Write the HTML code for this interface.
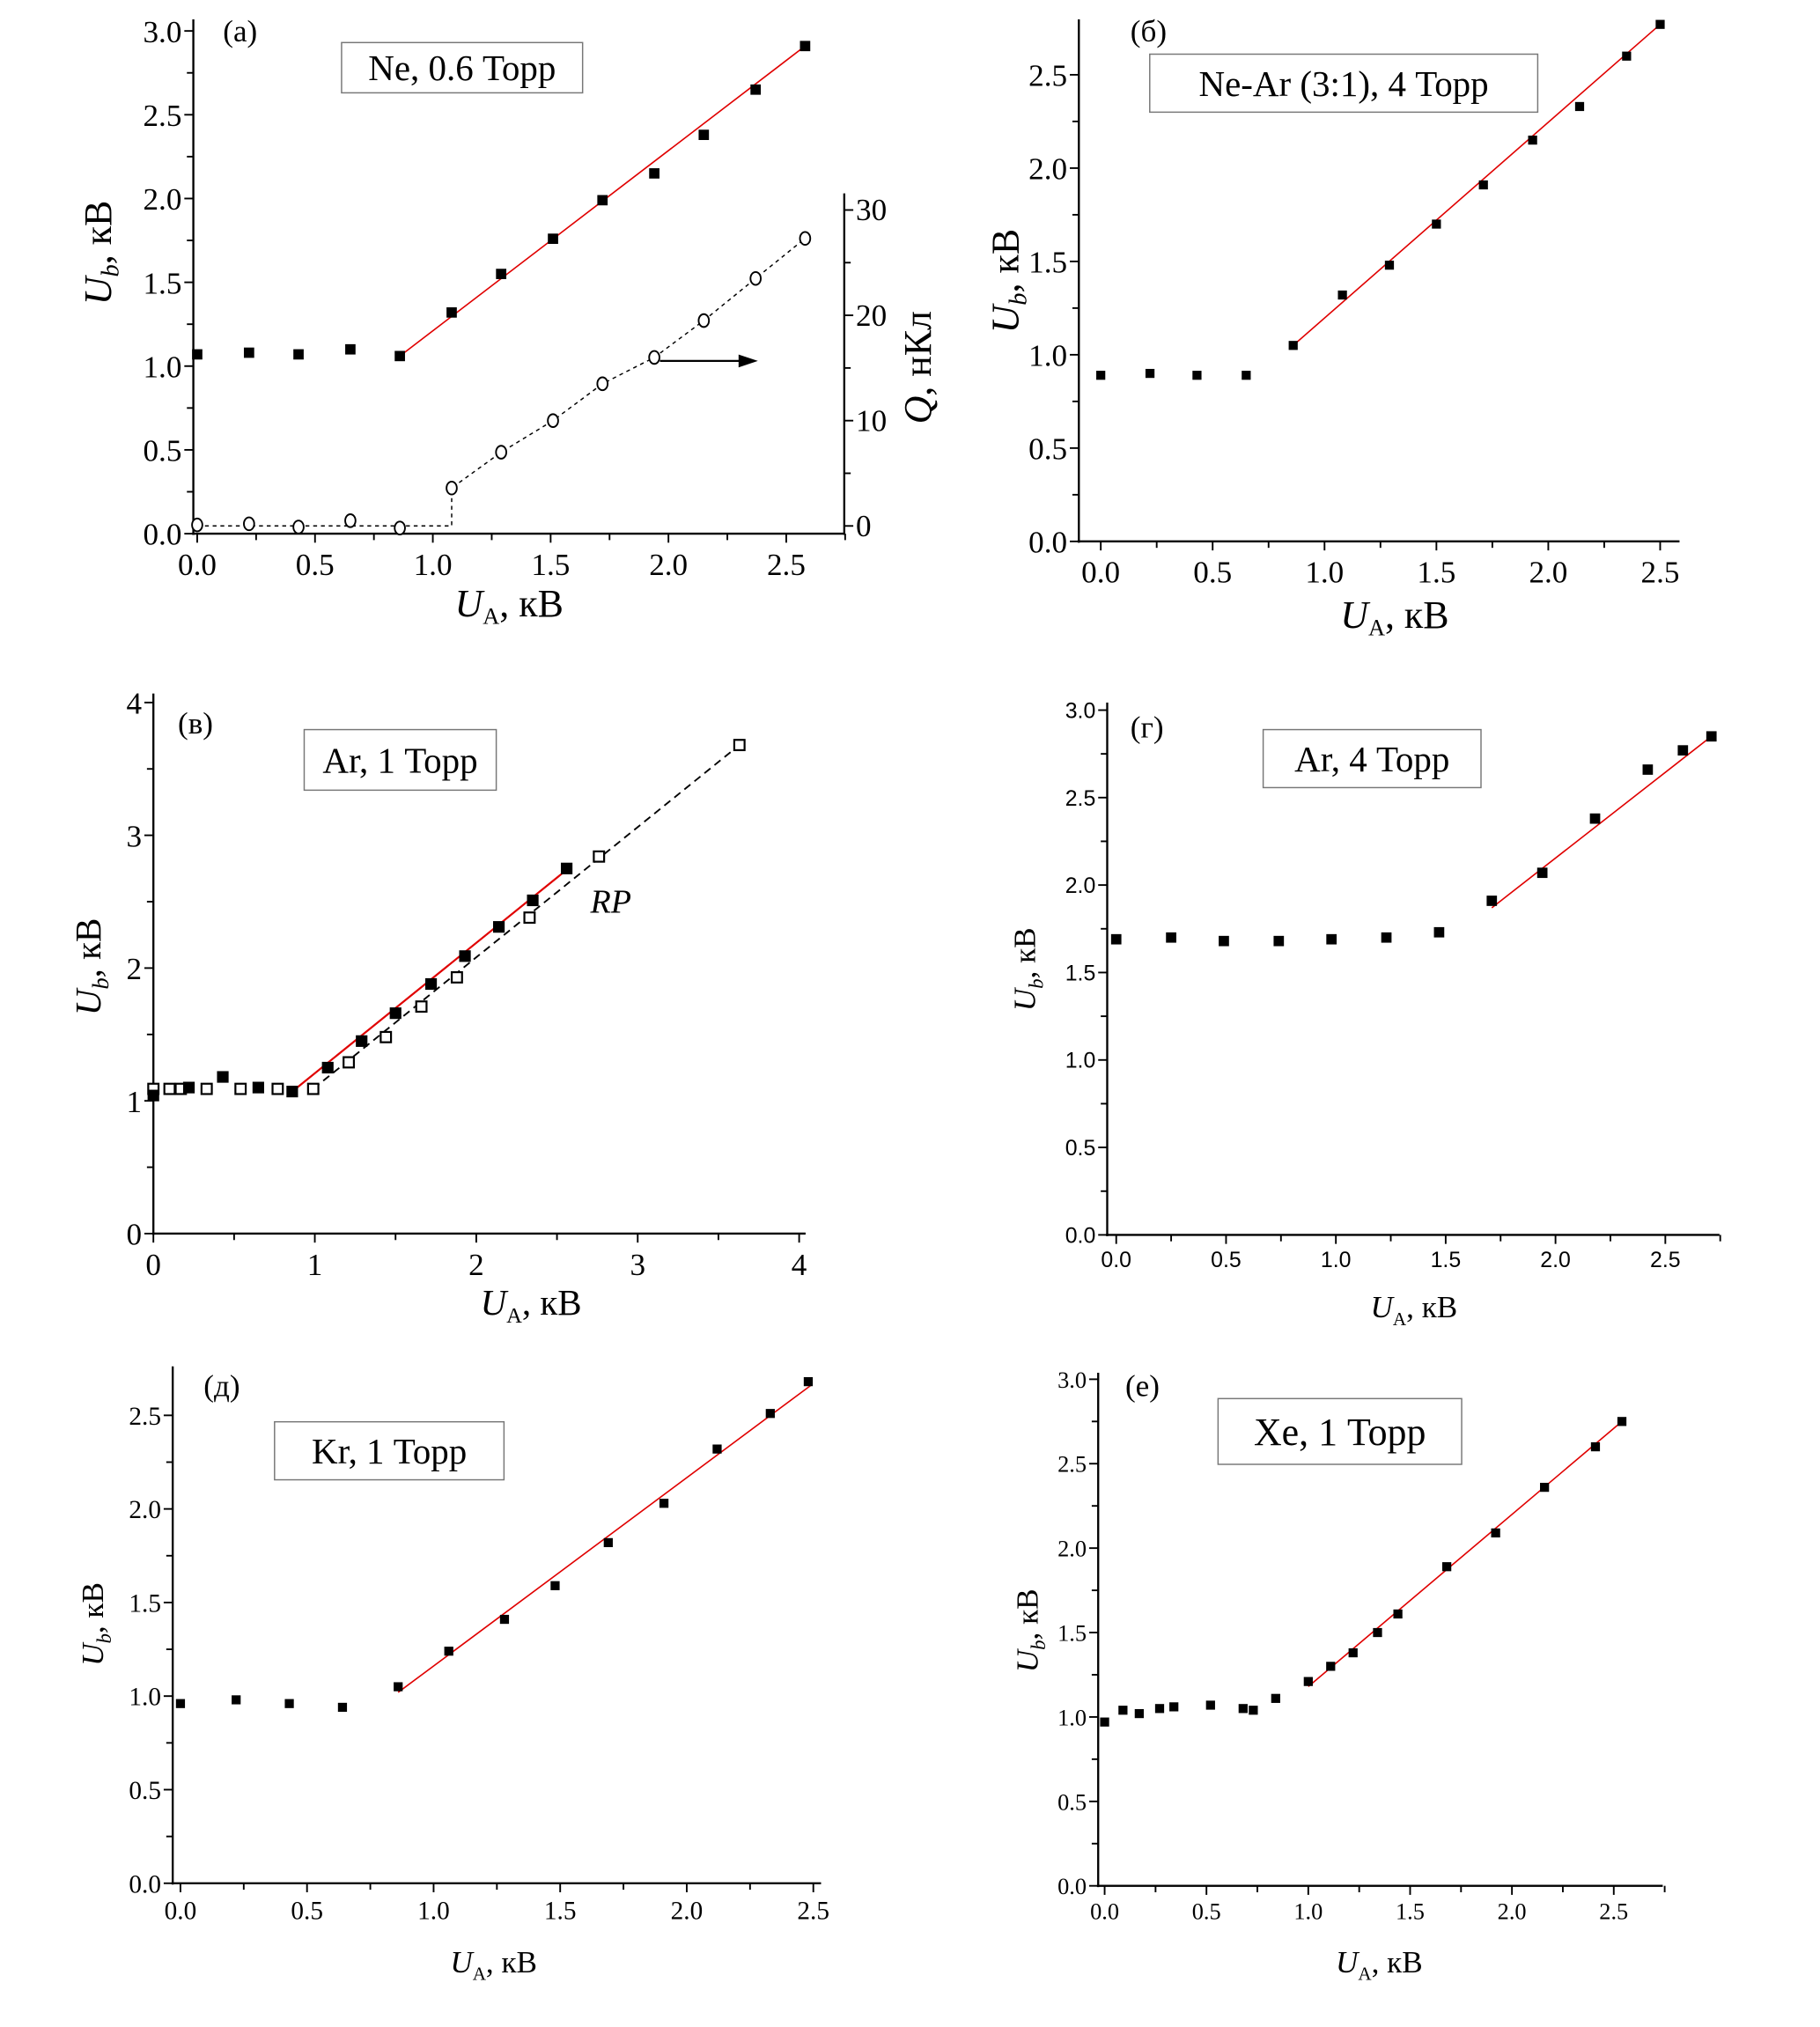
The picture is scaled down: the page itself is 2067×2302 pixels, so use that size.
<!DOCTYPE html>
<html><head><meta charset="utf-8"><style>
html,body{margin:0;padding:0;background:#fff;}
svg{display:block;}
text{font-family:"Liberation Serif",serif;fill:#000;}
.sans{font-family:"Liberation Sans",sans-serif;}
</style></head><body>
<svg id="fig" xmlns="http://www.w3.org/2000/svg" width="2067" height="2302" viewBox="0 0 1412 1572.5"></svg>
<script>
// ---- Panel (a) Ne 0.6 Torr ----
const aX = [0,0.22,0.43,0.65,0.86,1.08,1.29,1.51,1.72,1.94,2.15,2.37,2.58];
const aUb = [1.07,1.08,1.07,1.10,1.06,1.32,1.55,1.76,1.99,2.15,2.38,2.65,2.91];
const aQ = [0.1,0.2,-0.1,0.5,-0.2,3.6,7.0,10.0,13.5,16.0,19.5,23.5,27.3];
const aFit = [[0.86,1.06],[2.58,2.91]];
const aQTicks = [0,10,20,30];
// ---- Panel (б) Ne-Ar ----
const bX = [0,0.22,0.43,0.65,0.86,1.08,1.29,1.50,1.71,1.93,2.14,2.35,2.5];
const bUb = [0.89,0.90,0.89,0.89,1.05,1.32,1.48,1.70,1.91,2.15,2.33,2.60,2.77];
const bFit = [[0.86,1.05],[2.5,2.77]];
// ---- Panel (в) Ar 1 Torr ----
const cX = [0,0.22,0.43,0.65,0.86,1.08,1.29,1.50,1.72,1.93,2.14,2.35,2.56];
const cUb = [1.04,1.10,1.18,1.10,1.07,1.25,1.45,1.66,1.88,2.09,2.31,2.51,2.75];
const cRPx = [0,0.1,0.17,0.33,0.54,0.77,0.99,1.21,1.44,1.66,1.88,2.33,2.76,3.63];
const cRPy = [1.09,1.09,1.09,1.09,1.09,1.09,1.09,1.29,1.48,1.71,1.93,2.38,2.84,3.68];
const cFit = [[0.86,1.07],[2.56,2.74]];
const cRPFit = [[0.99,1.09],[3.63,3.68]];
// ---- Panel (г) Ar 4 Torr ----
const dX = [0,0.25,0.49,0.74,0.98,1.23,1.47,1.71,1.94,2.18,2.42,2.58,2.71];
const dUb = [1.69,1.70,1.68,1.68,1.69,1.70,1.73,1.91,2.07,2.38,2.66,2.77,2.85];
const dFit = [[1.71,1.87],[2.72,2.86]];
// ---- Panel (д) Kr ----
const eX = [0,0.22,0.43,0.64,0.86,1.06,1.28,1.48,1.69,1.91,2.12,2.33,2.48];
const eUb = [0.96,0.98,0.96,0.94,1.05,1.24,1.41,1.59,1.82,2.03,2.32,2.51,2.68];
const eFit = [[0.86,1.02],[2.49,2.66]];
// ---- Panel (е) Xe ----
const fX = [0,0.09,0.17,0.27,0.34,0.52,0.68,0.73,0.84,1.0,1.11,1.22,1.34,1.44,1.68,1.92,2.16,2.41,2.54];
const fUb = [0.97,1.04,1.02,1.05,1.06,1.07,1.05,1.04,1.11,1.21,1.30,1.38,1.50,1.61,1.89,2.09,2.36,2.60,2.75];
const fFit = [[1.0,1.18],[2.55,2.76]];

const NS="http://www.w3.org/2000/svg";
const svg=document.getElementById('fig');
function mk(tag,attrs,parent){const e=document.createElementNS(NS,tag);for(const k in attrs)e.setAttribute(k,attrs[k]);(parent||svg).appendChild(e);return e;}

function panel(p){
  const g=mk('g',{});
  
  
  const X=v=>p.x0+p.sx*v, Y=v=>p.y0-p.sy*v;
  const ax=mk('g',{},g);
  
  
  mk('line',{x1:p.axX,y1:p.yTop,x2:p.axX,y2:p.axY+1,stroke:'#000','stroke-width':1.6},ax);
  mk('line',{x1:p.axX-1,y1:p.axY,x2:p.xRight,y2:p.axY,stroke:'#000','stroke-width':1.6},ax);
  const cls=p.sans?'sans':'';
  for(let v=0;v<=p.xMax+1e-6;v+=p.xMinor){
    const maj=Math.abs(v/p.xStep-Math.round(v/p.xStep))<1e-6;
    mk('line',{x1:X(v),y1:p.axY,x2:X(v),y2:p.axY+(maj?7:5),stroke:'#000','stroke-width':1.3},ax);
    if(maj){const t=mk('text',{x:X(v),y:p.axY+p.fs+8,'font-size':p.fs,'text-anchor':'middle',class:cls},ax);t.textContent=p.xFmt(v);
      }
  }
  for(let v=0;v<=p.yMax+1e-6;v+=p.yMinor){
    const maj=Math.abs(v/p.yStep-Math.round(v/p.yStep))<1e-6;
    mk('line',{x1:p.axX,y1:Y(v),x2:p.axX-(maj?7:5),y2:Y(v),stroke:'#000','stroke-width':1.3},ax);
    if(maj){const t=mk('text',{x:p.axX-9,y:Y(v)+p.fs*0.36,'font-size':p.fs,'text-anchor':'end',class:cls},ax);t.textContent=p.yFmt(v);
      }
  }
  (p.lines||[]).forEach(L=>{
    const l=mk('line',{x1:X(L.pts[0][0]),y1:Y(L.pts[0][1]),x2:X(L.pts[1][0]),y2:Y(L.pts[1][1]),stroke:L.color,'stroke-width':L.w||1.1,'stroke-dasharray':L.dash||'none'},g);
    
  });
  (p.series||[]).forEach(S=>{
    const sg=mk('g',{},g);
    
    S.x.forEach((xv,i)=>{
      const cx=X(xv), cy=Y(S.y[i]); const s=S.size;
      let m;
      if(S.open) m=mk('rect',{x:cx-s/2,y:cy-s/2,width:s,height:s,fill:'#fff',stroke:'#000','stroke-width':1.5},sg);
      else m=mk('rect',{x:cx-s/2,y:cy-s/2,width:s,height:s,fill:'#000'},sg);
      
    });
  });
  const lb=mk('g',{},g);
  
  mk('rect',{x:p.box[0],y:p.box[1],width:p.box[2],height:p.box[3],fill:'#fff',stroke:'#777','stroke-width':1},lb);
  const bt=mk('text',{x:p.box[0]+p.box[2]/2,y:p.box[1]+p.box[3]/2+p.boxFs*0.35,'font-size':p.boxFs,'text-anchor':'middle'},lb);bt.textContent=p.boxText;
  const pl=mk('text',{x:p.letter[0],y:p.letter[1],'font-size':24},g);pl.textContent=p.letterText;
  
  const xt=mk('text',{x:p.xt[0],y:p.xt[1],'font-size':p.tfs,'text-anchor':'middle'},g);
  
  xt.innerHTML='<tspan font-style="italic">U</tspan><tspan font-size="'+(p.tfs*0.6)+'" dy="6">A</tspan><tspan dy="-6">, кВ</tspan>';
  const yt=mk('text',{x:0,y:0,'font-size':p.tfs,'text-anchor':'middle',transform:`translate(${p.yt[0]},${p.yt[1]}) rotate(-90)`},g);
  
  yt.innerHTML='<tspan font-style="italic">U</tspan><tspan font-style="italic" font-size="'+(p.tfs*0.65)+'" dy="6">b</tspan><tspan dy="-6">, кВ</tspan>';
  return {g,X,Y};
}
const f1=v=>v.toFixed(1), f0=v=>v.toFixed(0);

const A=panel({name:'panel-a-ne',x0:153,sx:182.8,y0:414,sy:130,axX:150,axY:414,yTop:15,xRight:655,xMax:2.75,xStep:0.5,xMinor:0.25,yMax:3,yStep:0.5,yMinor:0.25,fs:24,xFmt:f1,yFmt:f1,
 lines:[{name:'fit-line',pts:aFit,color:'#e00000'}],series:[{name:'ub-series',x:aX,y:aUb,size:8}],
 box:[265,33,187,39],boxText:'Ne, 0.6 Торр',boxFs:28,letter:[173,32],letterText:'(a)',xt:[395,478],yt:[86,196],tfs:30});
(function(){
  const Qy=v=>408-8.17*v;
  const rg=mk('g',{});
  
  mk('line',{x1:655,y1:150,x2:655,y2:415,stroke:'#000','stroke-width':1.6},rg);
  for(let v=0;v<=30;v+=5){const maj=v%10===0;
    mk('line',{x1:655,y1:Qy(v),x2:655+(maj?7:5),y2:Qy(v),stroke:'#000','stroke-width':1.3},rg);}
  aQTicks.forEach(v=>{const t=mk('text',{x:664,y:Qy(v)+8,'font-size':24},rg);t.textContent=v;
    });
  const qt=mk('text',{x:0,y:0,'font-size':30,'text-anchor':'middle',transform:'translate(722,285) rotate(-90)'},rg);
  qt.innerHTML='<tspan font-style="italic">Q</tspan>, нКл';
  
  const kink=5;
  let d=`M${A.X(aX[0])},${Qy(0)} L${A.X(aX[kink])},${Qy(0)} L${A.X(aX[kink])},${Qy(aQ[kink])}`;
  for(let i=kink+1;i<aX.length;i++) d+=` L${A.X(aX[i])},${Qy(aQ[i])}`;
  const dp=mk('path',{d:d,fill:'none',stroke:'#000','stroke-width':1,'stroke-dasharray':'3,3'});
  
  const qg=mk('g',{});
  
  aX.forEach((xv,i)=>{const c=mk('ellipse',{cx:A.X(xv),cy:Qy(aQ[i]),rx:4,ry:5,fill:'#fff',stroke:'#000','stroke-width':1.3},qg);
    });
  const ar=mk('g',{});
  
  mk('line',{x1:512,y1:280,x2:575,y2:280,stroke:'#000','stroke-width':1.5},ar);
  mk('polygon',{points:'588,280 573,275 573,285',fill:'#000'},ar);
})();
panel({name:'panel-b-ne-ar',x0:854,sx:173.6,y0:420,sy:144.8,axX:837,axY:420,yTop:15,xRight:1303,xMax:2.5,xStep:0.5,xMinor:0.25,yMax:2.5,yStep:0.5,yMinor:0.25,fs:24,xFmt:f1,yFmt:f1,
 lines:[{name:'fit-line',pts:bFit,color:'#e00000'}],series:[{name:'ub-series',x:bX,y:bUb,size:7}],
 box:[892,42,301,45],boxText:'Ne-Ar (3:1), 4 Торр',boxFs:28,letter:[877,32],letterText:'(б)',xt:[1082,487],yt:[790,218],tfs:30});
panel({name:'panel-c-ar-1',x0:119,sx:125.25,y0:957,sy:103,axX:119,axY:957,yTop:538,xRight:625,xMax:4,xStep:1,xMinor:0.5,yMax:4,yStep:1,yMinor:0.5,fs:24,xFmt:f0,yFmt:f0,
 lines:[{name:'rp-fit-line',pts:cRPFit,color:'#000',dash:'6,4',w:1.3},{name:'fit-line',pts:cFit,color:'#e00000',w:1.5}],
 series:[{name:'rp-series',x:cRPx,y:cRPy,size:8,open:true},{name:'ub-series',x:cX,y:cUb,size:9}],
 box:[236,566,149,47],boxText:'Ar, 1 Торр',boxFs:28,letter:[138,569],letterText:'(в)',xt:[412,1020],yt:[78,750],tfs:28});
const rp=mk('text',{x:458,y:708,'font-size':26,'font-style':'italic'});rp.textContent='RP';

panel({name:'panel-d-ar-4',x0:866,sx:170.4,y0:958,sy:135.7,axX:859,axY:958,yTop:545,xRight:1334,xMax:2.75,xStep:0.5,xMinor:0.25,yMax:3,yStep:0.5,yMinor:0.25,fs:17,sans:true,xFmt:f1,yFmt:f1,
 lines:[{name:'fit-line',pts:dFit,color:'#e00000'}],series:[{name:'ub-series',x:dX,y:dUb,size:8}],
 box:[980,566,169,45],boxText:'Ar, 4 Торр',boxFs:28,letter:[877,572],letterText:'(г)',xt:[1097,1022],yt:[803,752],tfs:24});
panel({name:'panel-e-kr',x0:140,sx:196.4,y0:1461,sy:145.2,axX:134,axY:1461,yTop:1060,xRight:637,xMax:2.5,xStep:0.5,xMinor:0.25,yMax:2.5,yStep:0.5,yMinor:0.25,fs:20,xFmt:f1,yFmt:f1,
 lines:[{name:'fit-line',pts:eFit,color:'#e00000'}],series:[{name:'ub-series',x:eX,y:eUb,size:7}],
 box:[213,1103,178,45],boxText:'Kr, 1 Торр',boxFs:28,letter:[158,1083],letterText:'(д)',xt:[383,1530],yt:[80,1260],tfs:24});
panel({name:'panel-f-xe',x0:857,sx:158,y0:1463,sy:131,axX:852,axY:1463,yTop:1065,xRight:1290,xMax:2.75,xStep:0.5,xMinor:0.25,yMax:3,yStep:0.5,yMinor:0.25,fs:18,xFmt:f1,yFmt:f1,
 lines:[{name:'fit-line',pts:fFit,color:'#e00000'}],series:[{name:'ub-series',x:fX,y:fUb,size:7}],
 box:[945,1085,189,51],boxText:'Xe, 1 Торр',boxFs:30,letter:[873,1083],letterText:'(е)',xt:[1070,1530],yt:[805,1265],tfs:24});
</script>
</body></html>
